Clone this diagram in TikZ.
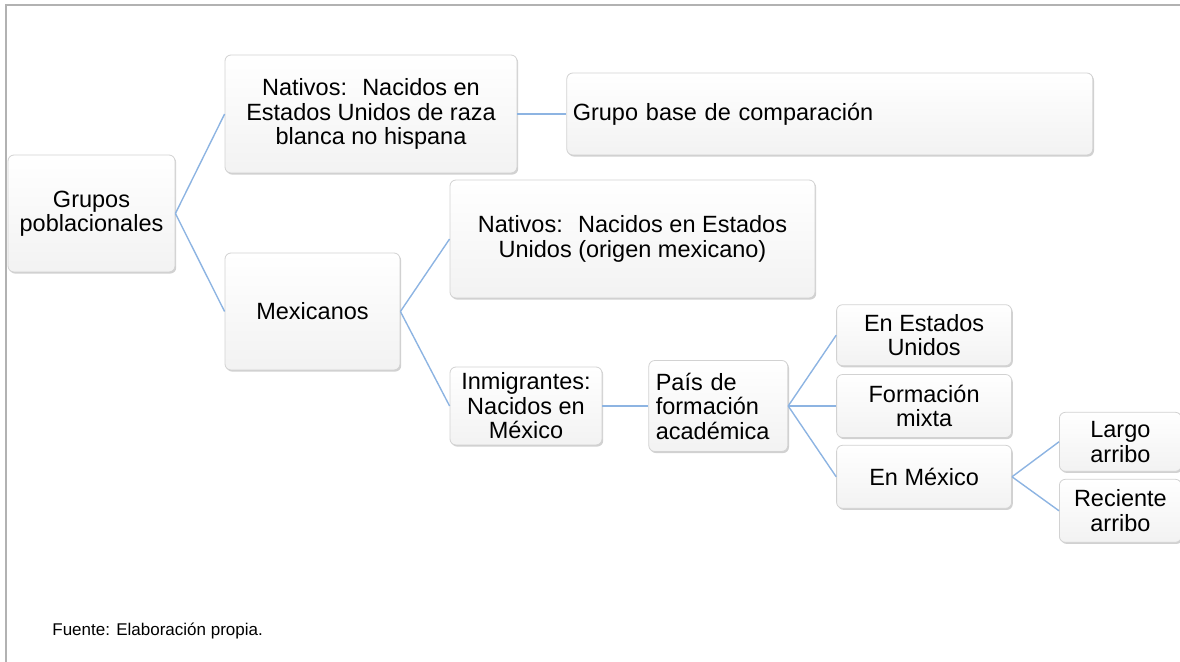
\documentclass[tikz,border=0pt]{standalone}
\usepackage{fontspec}
\setmainfont{Liberation Sans}
\usetikzlibrary{positioning, shadows}
\definecolor{linkblue}{RGB}{141,180,226}

\begin{document}
\begin{tikzpicture}[
	x=0.5pt, y=-0.5pt,
	node distance=24pt,
	box/.style={draw=gray!35, line width=0.4pt, rounded corners=3pt,
		top color=white, bottom color=gray!10,
		drop shadow={shadow xshift=0.6pt, shadow yshift=-0.8pt, opacity=0.3, fill=black!60},
		align=center, inner xsep=2pt, inner ysep=1pt,
		font=\fontsize{11.75}{12.25}\selectfont},
	link/.style={draw=linkblue, line width=0.7pt}
	]
\useasboundingbox (0,0) rectangle (1180,662);
\draw[gray!60, line width=1pt] (6,662) -- (6,5) -- (1180,5);

\node[box, minimum width=83.5pt, minimum height=58.5pt] (grupos) at (91.5,213.5) {Grupos\\poblacionales};
\node[box, minimum width=146pt, minimum height=59pt] (nativos) at (371,114) {Nativos:~ Nacidos en\\Estados Unidos de raza\\blanca no hispana};
\node[box, right=24.5pt of nativos, minimum height=41pt, text width=257pt, align=left, inner xsep=3pt] (base) {Grupo base de comparación};
\node[box, minimum width=87.5pt, minimum height=58.5pt] (mexicanos) at (312.5,311.5) {Mexicanos};
\node[box, minimum width=182.5pt, minimum height=59pt] (natmex) at (632.5,239) {Nativos:~ Nacidos en Estados\\Unidos (origen mexicano)};
\node[box, minimum width=76pt, minimum height=39pt] (inmig) at (526,406) {Inmigrantes:\\Nacidos en\\México};
\node[box, right=23pt of inmig, text width=62.5pt, align=left, inner xsep=3.5pt, minimum height=45.5pt] (pais) {País de\\formación\\académica};

\node[box, right=24pt of pais, minimum width=87.5pt, minimum height=31.5pt] (mixta) {Formación\\mixta};
\node[box, above=4pt of mixta, minimum width=87.5pt, minimum height=30.5pt] (eeuu) {En Estados\\Unidos};
\node[box, below=3.5pt of mixta, minimum width=87.5pt, minimum height=31.5pt] (enmex) {En México};
\node[box, right=23.5pt of enmex, yshift=17.5pt, minimum width=61pt, minimum height=29.5pt] (largo) {Largo\\arribo};
\node[box, right=23.5pt of enmex, yshift=-17pt, minimum width=61pt, minimum height=31.5pt] (reciente) {Reciente\\arribo};

% connectors
\draw[link] (grupos.east) -- (nativos.west);
\draw[link] (grupos.east) -- (mexicanos.west);
\draw[link] (nativos.east) -- (base.west);
\draw[link] (mexicanos.east) -- (natmex.west);
\draw[link] (mexicanos.east) -- (inmig.west);
\draw[link] (inmig.east) -- (pais.west);
\draw[link] (pais.east) -- (eeuu.west);
\draw[link] (pais.east) -- (mixta.west);
\draw[link] (pais.east) -- (enmex.west);
\draw[link] (enmex.east) -- (largo.west);
\draw[link] (enmex.east) -- (reciente.west);

\node[anchor=west, inner sep=0pt, font=\fontsize{8.5}{10}\selectfont] (fuente) at (52,631) {Fuente: Elaboración propia.};
\end{tikzpicture}
\end{document}
